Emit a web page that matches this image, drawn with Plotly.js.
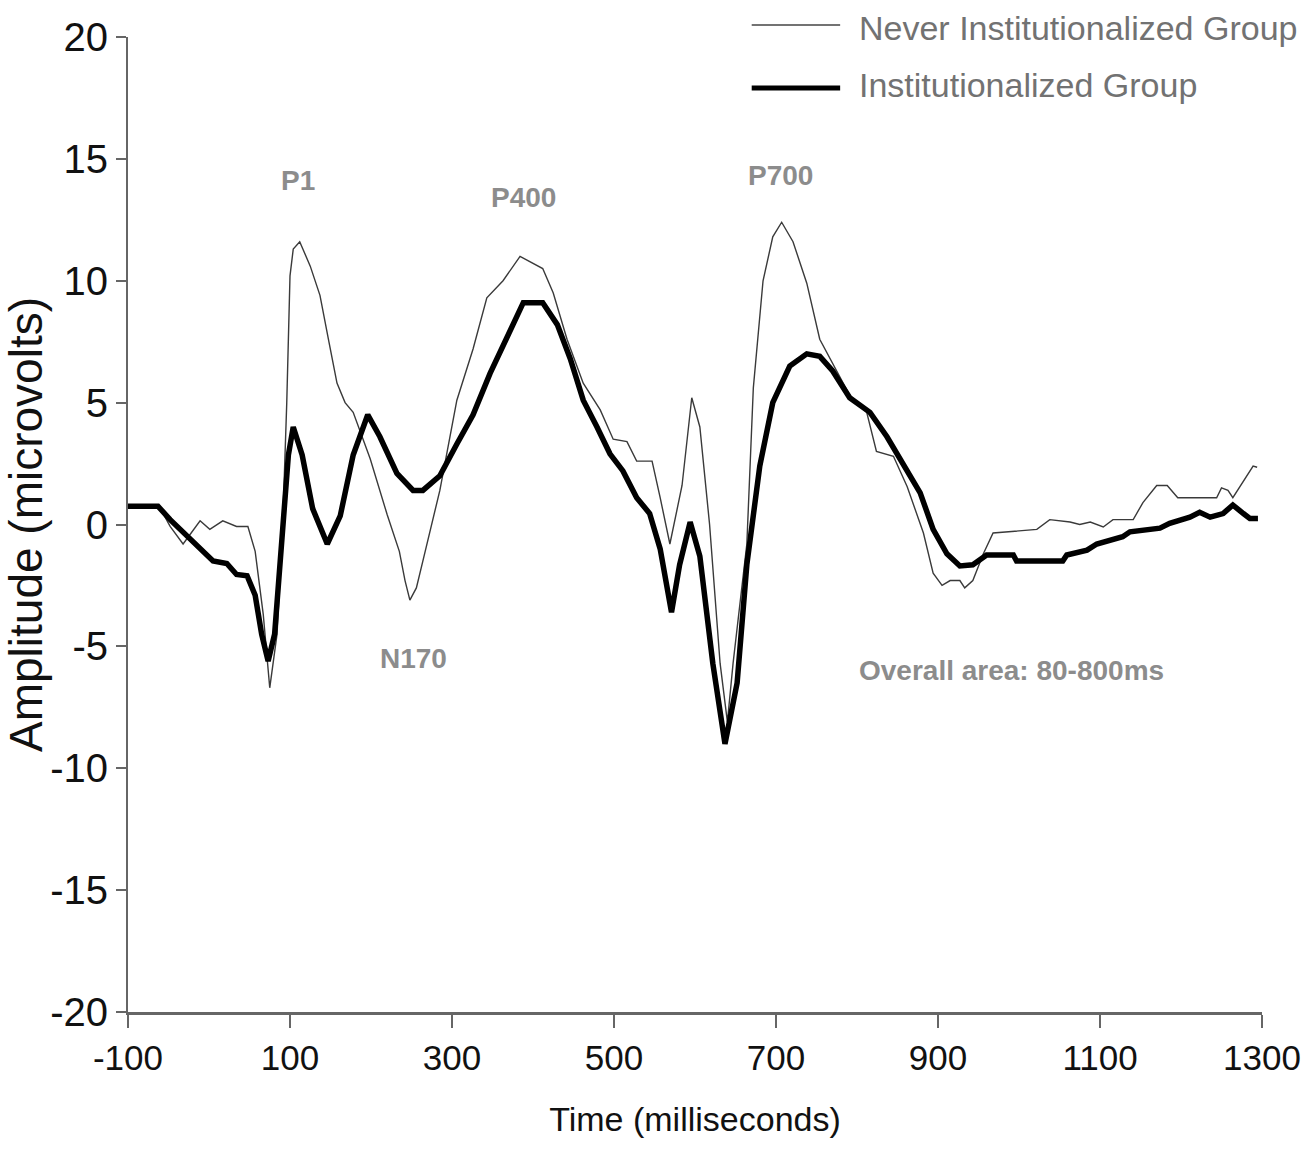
<!DOCTYPE html>
<html>
<head>
<meta charset="utf-8">
<script src="https://cdn.plot.ly/plotly-3.0.1.min.js"></script>
<style>html,body{margin:0;padding:0;background:#fff}#chart{width:1314px;height:1150px}</style>
</head>
<body>
<div id="chart"></div>
<script>
// Never Institutionalized Group (thin line)
const neverTime = [-100,-60,-48,-32,-11,1,17,34,48,57,67,75,84,91,96,100,104,112,125,137,148,158,168,178,199,220,235,242,248,256,264,285,306,326,343,363,384,400,412,425,442,462,483,499,516,528,547,557,569,584,596,606,618,631,640,647,664,672,684,696,707,721,738,754,767,791,812,824,845,862,882,894,905,915,927,933,943,956,968,1022,1038,1063,1075,1088,1104,1116,1141,1153,1170,1183,1196,1244,1250,1258,1264,1277,1289,1294];
const neverAmp  = [0.75,0.65,-0.08,-0.8,0.15,-0.2,0.15,-0.08,-0.08,-1.1,-3.7,-6.7,-4.5,0,5,10.2,11.3,11.6,10.6,9.4,7.5,5.8,5.0,4.6,2.7,0.4,-1.1,-2.3,-3.1,-2.6,-1.5,1.4,5.1,7.2,9.3,10.0,11.0,10.7,10.5,9.5,7.6,5.8,4.7,3.5,3.4,2.6,2.6,1.1,-0.8,1.6,5.2,4.0,0,-5.7,-8.1,-5.7,-0.8,5.6,10.0,11.8,12.4,11.6,9.9,7.6,6.8,5.3,4.6,3.0,2.8,1.55,-0.35,-2.0,-2.5,-2.3,-2.3,-2.6,-2.3,-1.2,-0.35,-0.2,0.2,0.1,0,0.1,-0.1,0.2,0.2,0.9,1.6,1.6,1.1,1.1,1.5,1.4,1.1,1.8,2.4,2.35];

// Institutionalized Group (thick line)
const instTime = [-100,-63,-48,-27,-11,5,22,34,47,57,65,73,81,91,98,104,115,128,146,162,178,196,211,232,252,264,285,306,326,347,368,388,412,430,446,462,479,495,511,528,544,557,571,581,594,606,622,637,652,664,680,696,717,738,754,770,791,816,837,857,878,894,911,927,943,960,993,997,1054,1059,1084,1096,1128,1137,1174,1186,1211,1223,1236,1252,1264,1277,1285,1295];
const instAmp  = [0.75,0.75,0.2,-0.5,-1.0,-1.5,-1.6,-2.05,-2.1,-2.9,-4.5,-5.6,-4.5,-0.1,2.85,4.0,2.85,0.65,-0.8,0.35,2.85,4.5,3.6,2.1,1.4,1.4,2.0,3.3,4.5,6.2,7.7,9.1,9.1,8.2,6.8,5.1,4.0,2.9,2.2,1.1,0.45,-1.0,-3.6,-1.65,0.1,-1.3,-5.7,-9.0,-6.5,-1.65,2.4,5.0,6.5,7.0,6.9,6.3,5.2,4.6,3.6,2.5,1.3,-0.2,-1.2,-1.7,-1.65,-1.25,-1.25,-1.5,-1.5,-1.25,-1.05,-0.8,-0.5,-0.3,-0.15,0.05,0.3,0.5,0.3,0.45,0.8,0.45,0.25,0.25];

const xTickVals = [-100,100,300,500,700,900,1100,1300];
const xTickText = ["-100","100","300","500","700","900","1100","1300"];
const yTickVals = [-20,-15,-10,-5,0,5,10,15,20];
const yTickText = ["-20","-15","-10","-5","0","5","10","15","20"];

const seriesNames = ["Never Institutionalized Group","Institutionalized Group"];
const componentLabels = ["P1","N170","P400","P700","Overall area: 80-800ms"];
const componentTime = [110,252,388,705,991];
const componentAmp = [14.1,-5.5,13.4,14.3,-6.0];

const SANS = "Liberation Sans, Arial, sans-serif";

const traces = [
  {x: neverTime, y: neverAmp, type: "scatter", mode: "lines", name: seriesNames[0],
   line: {color: "#3a3a3a", width: 1.4}, showlegend: false},
  {x: instTime, y: instAmp, type: "scatter", mode: "lines", name: seriesNames[1],
   line: {color: "#000000", width: 5.5}, showlegend: false}
];

const annotations = componentLabels.map((t, i) => ({
  x: componentTime[i], y: componentAmp[i], xref: "x", yref: "y",
  text: t, showarrow: false, xanchor: "center", yanchor: "middle",
  font: {family: SANS, size: 28, color: "#8c8c8c", weight: "bold"}
}));
annotations.push({
  x: 0.6429, y: 1.0092, xref: "paper", yref: "paper", text: seriesNames[0],
  showarrow: false, xanchor: "left", yanchor: "middle",
  font: {family: SANS, size: 34, color: "#727272"}
});
annotations.push({
  x: 0.6429, y: 0.9508, xref: "paper", yref: "paper", text: seriesNames[1],
  showarrow: false, xanchor: "left", yanchor: "middle",
  font: {family: SANS, size: 34, color: "#727272"}
});

const shapes = [
  {type: "line", xref: "paper", yref: "paper", x0: 0.550, x1: 0.628, y0: 1.0123, y1: 1.0123,
   line: {color: "#444", width: 1.5}},
  {type: "line", xref: "paper", yref: "paper", x0: 0.550, x1: 0.628, y0: 0.9477, y1: 0.9477,
   line: {color: "#000", width: 5}}
];

const layout = {
  width: 1314, height: 1150,
  margin: {l: 128, r: 52, t: 37, b: 138},
  paper_bgcolor: "#ffffff", plot_bgcolor: "#ffffff",
  showlegend: false,
  xaxis: {
    range: [-100, 1300], tickvals: xTickVals, ticktext: xTickText,
    showgrid: false, zeroline: false, showline: true, linecolor: "#666", linewidth: 2.5,
    ticks: "outside", ticklen: 13, tickwidth: 2, tickcolor: "#666",
    tickfont: {family: SANS, size: 35, color: "#111"},
    title: {text: "Time (milliseconds)", font: {family: SANS, size: 34, color: "#111"}, standoff: 32}
  },
  yaxis: {
    range: [-20, 20], tickvals: yTickVals, ticktext: yTickText,
    showgrid: false, zeroline: false, showline: true, linecolor: "#666", linewidth: 2,
    ticks: "outside", ticklen: 10, tickwidth: 2, tickcolor: "#666",
    tickfont: {family: SANS, size: 40, color: "#111"},
    title: {text: "Amplitude (microvolts)", font: {family: SANS, size: 46, color: "#111"}, standoff: 4}
  },
  annotations: annotations,
  shapes: shapes
};

Plotly.newPlot("chart", traces, layout, {displayModeBar: false, staticPlot: true});
</script>
</body>
</html>
